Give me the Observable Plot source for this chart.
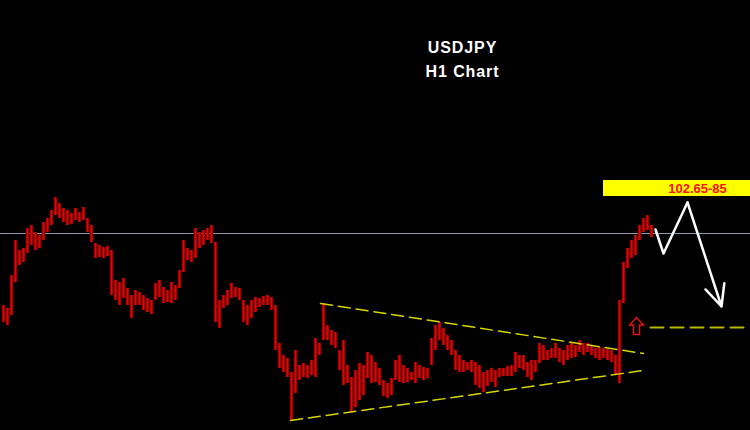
<!DOCTYPE html>
<html>
<head>
<meta charset="utf-8">
<script src="https://cdn.jsdelivr.net/npm/d3@7"></script>
<script src="https://cdn.jsdelivr.net/npm/@observablehq/plot@0.6"></script>
<style>
  html, body { margin: 0; padding: 0; background: #000; }
  #chart { width: 750px; height: 430px; overflow: hidden; }
</style>
</head>
<body>
<div id="chart"></div>
<script>
// ---- Hourly candles (USDJPY H1): highs and lows ----
const highs = [
  101.57,101.54,101.87,102.22,102.12,102.14,102.34,102.37,102.30,102.27,
  102.40,102.44,102.52,102.65,102.59,102.54,102.52,102.49,102.54,102.50,
  102.55,102.44,102.37,102.19,102.17,102.15,102.16,102.12,101.82,101.80,
  101.84,101.74,101.67,101.72,101.70,101.67,101.64,101.62,101.79,101.82,
  101.75,101.72,101.80,101.77,101.92,102.22,102.14,102.12,102.34,102.30,
  102.32,102.34,102.37,102.20,101.62,101.67,101.72,101.79,101.75,101.74,
  101.62,101.57,101.62,101.65,101.64,101.66,101.67,101.65,101.57,101.19,
  101.07,101.04,100.90,101.12,100.97,100.99,100.97,101.02,101.24,101.19,
  101.59,101.37,101.32,101.30,101.12,101.22,100.97,100.85,100.92,100.99,
  100.97,101.10,101.07,101.00,100.94,100.82,100.79,100.84,101.02,101.07,
  100.97,100.94,100.90,101.00,100.97,100.95,100.94,101.24,101.37,101.40,
  101.34,101.27,101.22,101.12,101.07,101.02,101.00,101.02,101.00,100.97,
  100.90,100.92,100.94,100.92,100.94,100.94,100.96,100.97,101.10,101.07,
  101.07,101.00,101.02,101.02,101.19,101.17,101.12,101.14,101.19,101.14,
  101.12,101.17,101.20,101.17,101.22,101.19,101.19,101.17,101.14,101.15,
  101.14,101.13,101.12,101.07,101.62,102.00,102.14,102.22,102.27,102.37,
  102.44,102.47,102.37
];
const lows = [
  101.40,101.37,101.47,101.80,101.97,102.00,102.09,102.17,102.12,102.14,
  102.22,102.30,102.37,102.47,102.44,102.40,102.37,102.38,102.42,102.40,
  102.42,102.30,102.20,102.04,102.05,102.04,102.06,101.67,101.62,101.57,
  101.64,101.57,101.44,101.57,101.57,101.52,101.50,101.48,101.62,101.65,
  101.59,101.60,101.59,101.62,101.74,101.90,102.02,102.00,102.04,102.14,
  102.17,102.22,102.19,101.40,101.34,101.54,101.57,101.64,101.65,101.62,
  101.40,101.37,101.44,101.50,101.55,101.57,101.57,101.52,101.12,100.94,
  100.90,100.85,100.42,100.69,100.82,100.85,100.84,100.87,100.85,101.07,
  101.22,101.22,101.17,101.14,100.92,100.77,100.79,100.50,100.55,100.62,
  100.67,100.84,100.79,100.80,100.77,100.66,100.64,100.67,100.82,100.80,
  100.79,100.80,100.82,100.79,100.84,100.82,100.84,100.97,101.12,101.22,
  101.17,101.12,101.07,100.92,100.90,100.90,100.92,100.90,100.77,100.74,
  100.70,100.76,100.80,100.75,100.85,100.86,100.86,100.86,100.90,100.94,
  100.92,100.85,100.82,100.90,100.99,101.02,101.02,101.04,101.04,101.00,
  100.97,101.02,101.04,101.05,101.10,101.07,101.10,101.07,101.04,101.02,
  101.04,101.02,101.00,100.87,100.79,101.59,101.94,102.04,102.07,102.22,
  102.30,102.32,102.25
];

// ---- Annotations (bar index, price) ----
const referenceLevel = [102.29];
const resistanceLine = [{i: 79.25, p: 101.59}, {i: 160, p: 101.09}];
const supportLine = [{i: 71.75, p: 100.42}, {i: 160, p: 100.92}];
const breakoutLevel = [{i: 161.75, p: 101.35}, {i: 185.5, p: 101.35}];
const projectionPath = [{i: 163, p: 102.33}, {i: 165, p: 102.09}, {i: 171, p: 102.60}];
const projectionFinal = [{i1: 171, p1: 102.60, i2: 179.5, p2: 101.56}];
const breakoutMarker = [{i: 158.25, p: 101.365}];
const targetBox = [{i1: 150, i2: 186.75, p1: 102.66, p2: 102.82}];
const targetLabel = [{i: 173.5, p: 102.735, text: "102.65-85"}];
const titleLines = [
  {i: 114.75, p: 104.15, text: "USDJPY"},
  {i: 114.75, p: 103.91, text: "H1 Chart"}
];

const candles = highs.map((h, i) => ({i, high: h, low: lows[i]}));

const upArrowSymbol = {
  draw(ctx) {
    ctx.moveTo(0, -8.5);
    ctx.lineTo(7, -1);
    ctx.lineTo(3, -1);
    ctx.lineTo(3, 8.5);
    ctx.lineTo(-3, 8.5);
    ctx.lineTo(-3, -1);
    ctx.lineTo(-7, -1);
    ctx.closePath();
  }
};

const chart = Plot.plot({
  width: 750,
  height: 430,
  marginTop: 0, marginRight: 0, marginBottom: 0, marginLeft: 0,
  style: {background: "#000", fontFamily: "'Liberation Sans', Arial, sans-serif"},
  x: {domain: [-0.75, 186.75], axis: null},
  y: {domain: [100.32, 104.62], axis: null},
  marks: [
    Plot.ruleY(referenceLevel, {stroke: "#8d99a6", strokeWidth: 1}),
    Plot.ruleX(candles, {x: "i", y1: "low", y2: "high", stroke: "#9c0000", strokeWidth: 3.4}),
    Plot.ruleX(candles, {x: "i", y1: "low", y2: "high", stroke: "#e80000", strokeWidth: 1.3}),
    Plot.line(resistanceLine, {x: "i", y: "p", stroke: "#d6d600", strokeWidth: 1.5, strokeDasharray: "12,6"}),
    Plot.line(supportLine, {x: "i", y: "p", stroke: "#d6d600", strokeWidth: 1.5, strokeDasharray: "12,6"}),
    Plot.line(breakoutLevel, {x: "i", y: "p", stroke: "#b8b800", strokeWidth: 2, strokeDasharray: "13,7"}),
    Plot.line(projectionPath, {x: "i", y: "p", stroke: "#fff", strokeWidth: 2.5}),
    Plot.arrow(projectionFinal, {x1: "i1", y1: "p1", x2: "i2", y2: "p2", stroke: "#fff", strokeWidth: 2.5, headLength: 14, headAngle: 50}),
    Plot.dot(breakoutMarker, {x: "i", y: "p", symbol: upArrowSymbol, stroke: "#e01010", strokeWidth: 1.5, fill: "#000", r: 8}),
    Plot.rect(targetBox, {x1: "i1", x2: "i2", y1: "p1", y2: "p2", fill: "#ffff00"}),
    Plot.text(targetLabel, {x: "i", y: "p", text: "text", fill: "#ff1010", fontSize: 13, fontWeight: "bold"}),
    Plot.text(titleLines, {x: "i", y: "p", text: "text", fill: "#fff", fontSize: 16, fontWeight: "bold"})
  ]
});

d3.select(chart).selectAll("text")
  .filter(function() { return this.textContent === "USDJPY" || this.textContent === "H1 Chart"; })
  .style("letter-spacing", "0.9px");

document.getElementById("chart").appendChild(chart);
</script>
</body>
</html>
